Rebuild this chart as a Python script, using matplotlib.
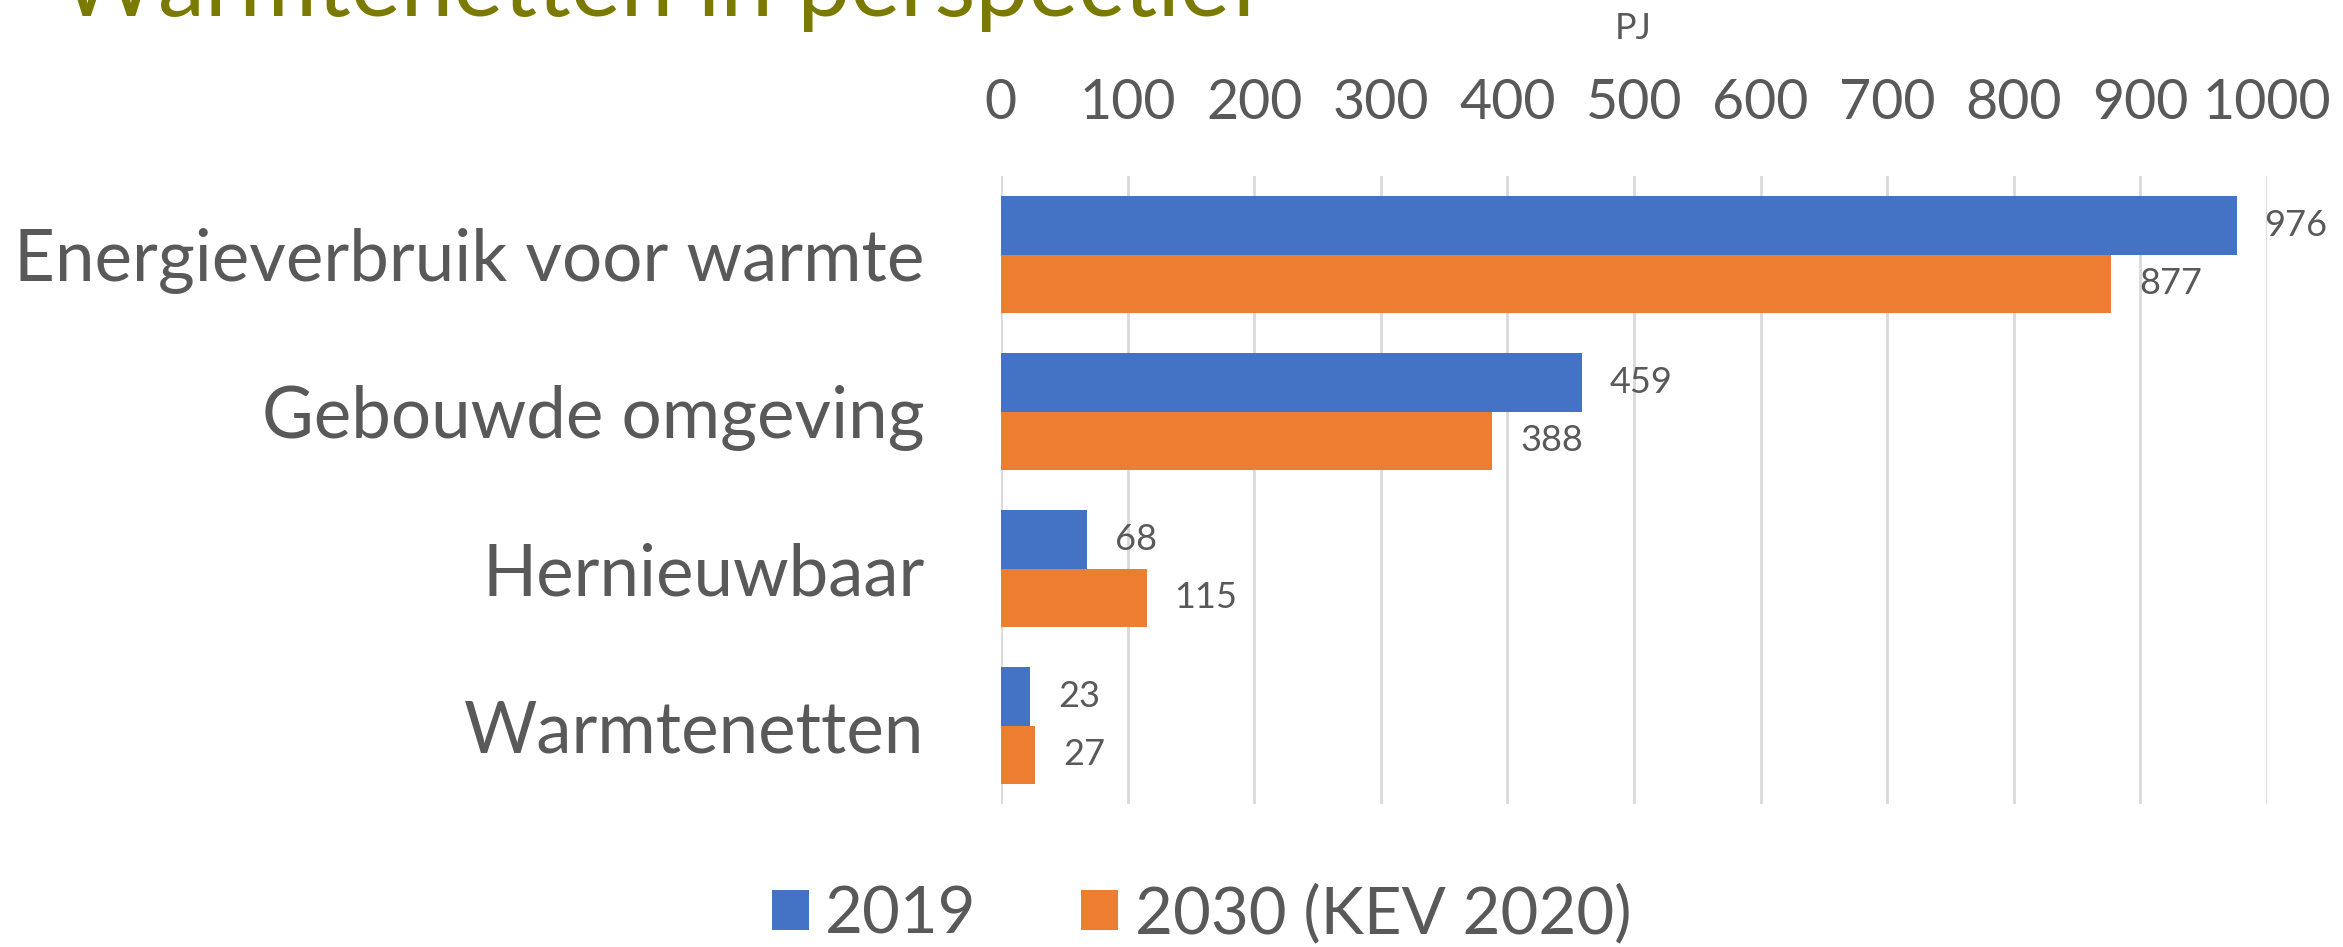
import matplotlib.pyplot as plt
import numpy as np

categories = ["Energieverbruik voor warmte", "Gebouwde omgeving", "Hernieuwbaar", "Warmtenetten"]
series_names = ["2019", "2030 (KEV 2020)"]
values_2019 = [976, 459, 68, 23]
values_2030 = [877, 388, 115, 27]
x_ticks = [0, 100, 200, 300, 400, 500, 600, 700, 800, 900, 1000]

BLUE = "#4472C4"
ORANGE = "#ED7D31"
GREY = "#595959"
FONT = "Lato"

plt.rcParams["font.family"] = [FONT, "DejaVu Sans"]

fig = plt.figure(figsize=(23.43, 9.47), dpi=100)
ax = fig.add_axes([0.4272, 0.151, 0.5404, 0.6631])

y = np.arange(len(categories))
h = 0.375
bars1 = ax.barh(y - h / 2, values_2019, height=h, color=BLUE, label=series_names[0])
bars2 = ax.barh(y + h / 2, values_2030, height=h, color=ORANGE, label=series_names[1])

# data labels
for bars, vals in [(bars1, values_2019), (bars2, values_2030)]:
    for b, v in zip(bars, vals):
        ax.annotate(str(v), (b.get_width(), b.get_y() + b.get_height() / 2),
                    xytext=(20, 0), textcoords="offset points",
                    va="center", ha="left", fontsize=26, color=GREY)

ax.set_xlim(0, 1000)
ax.set_ylim(3.5, -0.5)
ax.set_xticks(x_ticks)
ax.xaxis.tick_top()
ax.tick_params(axis="x", length=0, pad=34, labelsize=40, labelcolor=GREY)
ax.tick_params(axis="y", length=0, pad=55, labelsize=51, labelcolor=GREY)
ax.set_yticks(y)
ax.set_yticklabels(categories)
ax.grid(axis="x", color="#d9d9d9", linewidth=2)
ax.set_axisbelow(True)
for s in ax.spines.values():
    s.set_visible(False)

fig.text(0.6972, 0.970, "PJ", ha="center", va="center", fontsize=26, color=GREY)

# slide title, cut off at the top
fig.text(0.0255, 0.9835, "Warmtenetten in perspectief", ha="left", va="baseline",
         fontsize=68, color="#7A7A00")

fig.legend(loc="center", bbox_to_anchor=(0.5127, 0.035), ncol=2, frameon=False,
           fontsize=47, labelcolor=GREY, handlelength=0.57, handleheight=0.57,
           handletextpad=0.25, columnspacing=1.6)

fig.savefig("out.png", dpi=100)
